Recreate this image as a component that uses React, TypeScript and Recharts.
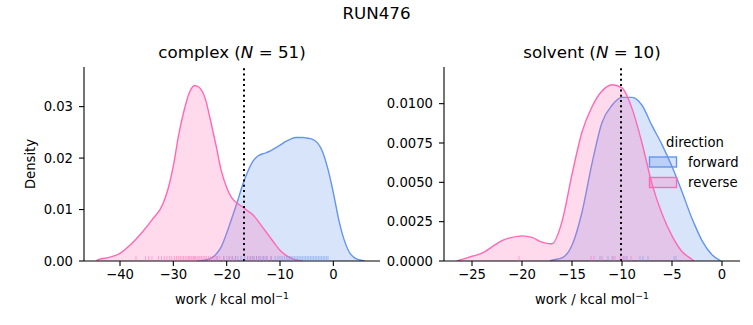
import React from "react";
import {
  ComposedChart,
  Area,
  Scatter,
  XAxis,
  YAxis,
  ReferenceLine,
} from "recharts";

const FONT = "'DejaVu Sans', sans-serif";
const BLUE = "#6495ed";
const PINK = "#ff69b4";

// complex leg, KDE
const complexX = [
  -44.4, -44, -42, -40, -38, -36, -34, -32, -31, -30, -29, -28, -27, -26, -25.6,
  -25, -24, -23, -22, -21, -20, -19, -18, -17, -16, -15, -14, -13, -12, -11,
  -10, -9, -8, -7, -6, -5.7, -5, -4, -3, -2, -1, 0, 1, 2, 3, 4, 5, 5.9,
];
const complexReverse = [
  0, 0.0003, 0.0007, 0.0015, 0.0032, 0.0054, 0.008, 0.011, 0.014, 0.0185,
  0.0245, 0.0292, 0.0327, 0.0341, 0.034, 0.0336, 0.0315, 0.0272, 0.0225,
  0.0175, 0.0143, 0.0122, 0.0112, 0.0105, 0.0097, 0.0089, 0.0076, 0.0062,
  0.0048, 0.0034, 0.0021, 0.0012, 0.0006, 0.0002, 0.00005, 0, null, null, null,
  null, null, null, null, null, null, null, null, null,
];
const complexForward = [
  null, null, null, null, null, null, null, null, null, null, null, null, null,
  null, 0, 0.00005, 0.0002, 0.0005, 0.0013, 0.0028, 0.0054, 0.0084, 0.0115,
  0.0148, 0.0175, 0.0195, 0.0205, 0.0209, 0.0213, 0.0219, 0.0225, 0.0232,
  0.0237, 0.024, 0.024, 0.024, 0.0239, 0.0237, 0.023, 0.0212, 0.0178, 0.0133,
  0.0081, 0.0042, 0.0017, 0.0006, 0.0002, 0,
];
const complexForwardWork = [
  -21.8, -20.5, -19.6, -19.0, -18.4, -17.9, -17.3, -16.6, -16.1, -15.6, -15.2,
  -14.8, -14.4, -14.0, -13.6, -13.2, -12.8, -12.4, -11.6, -10.9, -10.4, -10.0,
  -9.6, -9.2, -8.8, -8.5, -8.2, -7.9, -7.6, -7.3, -7.0, -6.7, -6.4, -6.1, -5.8,
  -5.5, -5.2, -4.9, -4.6, -4.3, -4.0, -3.7, -3.4, -3.1, -2.8, -2.5, -2.2, -1.9,
  -1.6, -1.3, -1.0,
];
const complexReverseWork = [
  -37.0, -35.2, -34.6, -34.0, -32.8, -32.2, -31.7, -31.2, -30.7, -30.3, -29.8,
  -29.4, -29.0, -28.7, -28.4, -28.1, -27.8, -27.5, -27.2, -27.0, -26.7, -26.5,
  -26.2, -26.0, -25.8, -25.5, -25.2, -25.0, -24.7, -24.4, -24.1, -23.8, -23.4,
  -23.0, -22.6, -22.2, -21.8, -21.3, -20.6, -20.0, -19.4, -18.9, -18.3, -16.0,
  -15.5, -15.0, -14.4, -13.8, -13.1, -12.5, -11.8,
];

// solvent leg
const solventX = [
  -26.5, -26, -25, -24, -23, -22, -21, -20, -19, -18, -17.2, -17, -16, -15, -14,
  -13, -12, -11, -10, -9, -8, -7, -6, -5, -4, -3, -2.8, -2, -1, -0.1,
];
const solventReverse = [
  0, 0.0001, 0.0003, 0.0005, 0.0009, 0.0013, 0.0015, 0.0016, 0.0015, 0.0012,
  0.0011, 0.0011, 0.0025, 0.0055, 0.0082, 0.0098, 0.0108, 0.0112, 0.011,
  0.0097, 0.0075, 0.0049, 0.003, 0.0016, 0.0006, 0.0001, 0, null, null, null,
];
const solventForward = [
  null, null, null, null, null, null, null, null, null, null, 0, 0.00005,
  0.0002, 0.001, 0.0031, 0.0062, 0.0088, 0.0099, 0.0104, 0.0104, 0.0099,
  0.0086, 0.0074, 0.006, 0.0044, 0.0027, 0.0024, 0.0013, 0.0004, 0,
];
const solventForwardWork = [-12.2, -11.4, -10.9, -9.8, -9.5, -8.2, -7.9, -7.4, -4.8, -4.6];
const solventReverseWork = [-20.3, -13.1, -12.8, -12.0, -11.0, -10.7, -10.2, -9.9, -9.6, -9.1];

const complexXTicks = [-40, -30, -20, -10, 0];
const complexYTicks = [0, 0.01, 0.02, 0.03];
const solventXTicks = [-25, -20, -15, -10, -5, 0];
const solventYTicks = [0, 0.0025, 0.005, 0.0075, 0.01];

const complexMean = -16.75;
const solventMean = -10.1;

const minus = (v: number) => (v < 0 ? "\u2212" + Math.abs(v) : String(v));

const rug = (color: string) => (p: any) => (
  <line
    x1={p.cx}
    x2={p.cx}
    y1={p.cy}
    y2={p.cy - 5}
    stroke={color}
    strokeOpacity={0.5}
    strokeWidth={1}
  />
);

function Panel(props: any) {
  const rows = props.xs.map((x: number, i: number) => ({
    x,
    fwd: props.fwd[i],
    rev: props.rev[i],
  }));
  const fRug = props.fWork.map((x: number) => ({ x, y: 0 }));
  const rRug = props.rWork.map((x: number) => ({ x, y: 0 }));
  const axisStyle = { stroke: "#000", strokeWidth: 1.1 };
  const tick = { fill: "#000", fontSize: 13.2, fontFamily: FONT };
  return (
    <ComposedChart
      width={props.width}
      height={325}
      data={rows}
      margin={{ top: 67, right: props.right, bottom: 34, left: props.left }}
    >
      <XAxis
        dataKey="x"
        type="number"
        domain={props.xDomain}
        ticks={props.xTicks}
        tickFormatter={minus}
        allowDataOverflow
        height={30}
        tickSize={5}
        tickMargin={4}
        axisLine={axisStyle}
        tickLine={axisStyle}
        tick={tick}
      />
      <YAxis
        type="number"
        domain={props.yDomain}
        ticks={props.yTicks}
        tickFormatter={(v: number) => v.toFixed(props.digits)}
        allowDataOverflow
        width={50}
        tickSize={5}
        tickMargin={6}
        axisLine={axisStyle}
        tickLine={axisStyle}
        tick={tick}
      />
      <Area
        dataKey="fwd"
        type="monotone"
        stroke={BLUE}
        strokeWidth={1.4}
        fill={BLUE}
        fillOpacity={0.25}
        isAnimationActive={false}
        dot={false}
        activeDot={false}
      />
      <Area
        dataKey="rev"
        type="monotone"
        stroke={PINK}
        strokeWidth={1.4}
        fill={PINK}
        fillOpacity={0.25}
        isAnimationActive={false}
        dot={false}
        activeDot={false}
      />
      <Scatter data={fRug} dataKey="y" shape={rug(BLUE)} isAnimationActive={false} />
      <Scatter data={rRug} dataKey="y" shape={rug(PINK)} isAnimationActive={false} />
      <ReferenceLine
        x={props.mean}
        stroke="#000"
        strokeWidth={2}
        strokeDasharray="2 3.3"
      />
    </ComposedChart>
  );
}

export default function App() {
  return (
    <div
      style={{
        position: "absolute",
        left: 0,
        top: 0,
        width: 753,
        height: 325,
        background: "#fff",
        fontFamily: FONT,
      }}
    >
      <div style={{ position: "absolute", left: 0, top: 0 }}>
        <Panel
          width={390}
          left={34}
          right={10}
          xs={complexX}
          fwd={complexForward}
          rev={complexReverse}
          fWork={complexForwardWork}
          rWork={complexReverseWork}
          xDomain={[-46.75, 8.75]}
          yDomain={[0, 0.0377]}
          xTicks={complexXTicks}
          yTicks={complexYTicks}
          digits={2}
          mean={complexMean}
        />
      </div>
      <div style={{ position: "absolute", left: 380, top: 0 }}>
        <Panel
          width={373}
          left={14}
          right={13}
          xs={solventX}
          fwd={solventForward}
          rev={solventReverse}
          fWork={solventForwardWork}
          rWork={solventReverseWork}
          xDomain={[-27.8, 1.8]}
          yDomain={[0, 0.01233]}
          xTicks={solventXTicks}
          yTicks={solventYTicks}
          digits={4}
          mean={solventMean}
        />
      </div>
      <svg
        width={753}
        height={325}
        style={{ position: "absolute", left: 0, top: 0, pointerEvents: "none" }}
        fontFamily={FONT}
      >
        <text x={376.5} y={19} textAnchor="middle" fontSize={16.7}>
          RUN476
        </text>
        <text x={232} y={58} textAnchor="middle" fontSize={16.7}>
          complex (<tspan fontStyle="italic">N</tspan> = 51)
        </text>
        <text x={592} y={58} textAnchor="middle" fontSize={16.7}>
          solvent (<tspan fontStyle="italic">N</tspan> = 10)
        </text>
        <text x={35} y={164} textAnchor="middle" fontSize={13.2} transform="rotate(-90 35 164)">
          Density
        </text>
        <text x={232} y={304} textAnchor="middle" fontSize={13.2}>
          work / kcal mol<tspan fontSize={9.3} dy={-5.5}>{"\u22121"}</tspan>
        </text>
        <text x={592} y={304} textAnchor="middle" fontSize={13.2}>
          work / kcal mol<tspan fontSize={9.3} dy={-5.5}>{"\u22121"}</tspan>
        </text>
        <text x={695} y={146.5} textAnchor="middle" fontSize={13.2}>
          direction
        </text>
        <rect x={649.5} y={157} width={27} height={10} fill={BLUE} fillOpacity={0.25} stroke={BLUE} strokeWidth={1.4} />
        <rect x={649.5} y={177.5} width={27} height={10} fill={PINK} fillOpacity={0.25} stroke={PINK} strokeWidth={1.4} />
        <text x={688} y={166.5} fontSize={13.2}>
          forward
        </text>
        <text x={688} y={187} fontSize={13.2}>
          reverse
        </text>
      </svg>
    </div>
  );
}
